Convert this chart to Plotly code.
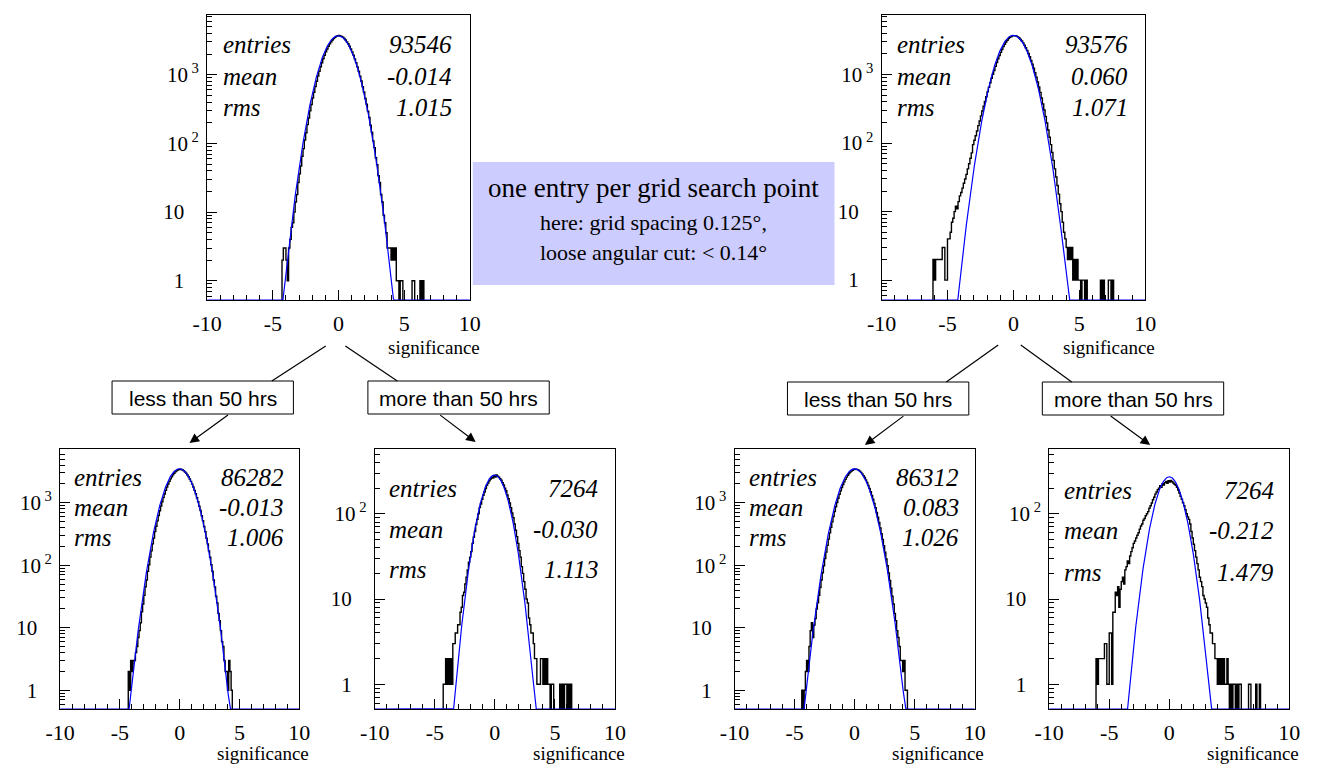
import numpy as np
import plotly.graph_objects as go

W, H = 1318, 776
BIN_WIDTH = 0.1

# ---------------- data (bin counts, 0.1 wide bins starting at first edge) ----------------
p1_first_edge = -4.3
p1_counts = [2, 3, 3, 2, 1, 3, 4, 6, 7, 10, 14, 18, 27, 36, 47, 65, 84, 112, 143, 188, 235, 298,
             368, 458, 555, 676, 805, 958, 1120, 1306, 1498, 1712, 1922, 2155, 2372, 2605, 2815,
             3025, 3205, 3378, 3505, 3620, 3688, 3725, 3685, 3612, 3515, 3368, 3212, 3015, 2822,
             2596, 2380, 2148, 1930, 1705, 1503, 1300, 1126, 954, 810, 670, 560, 452, 373, 295,
             238, 184, 146, 109, 87, 62, 49, 34, 27, 18, 14, 9, 7, 5, 3, 3, 3, 2, 3, 2, 3, 1, 1,
             0, 1, 1, 0, 0, 0, 0, 0, 0, 0, 1, 1, 0, 0, 0, 0, 1, 0, 1]

p2_first_edge = -6.1
p2_counts = [2, 1, 2, 2, 2, 2, 2, 3, 3, 1, 1, 4, 4, 5, 7, 8, 10, 12, 11, 14, 17, 19, 22, 26, 30,
             35, 42, 50, 60, 72, 95, 110, 128, 150, 180, 210, 250, 295, 345, 405, 475, 560, 650,
             760, 880, 1010, 1150, 1320, 1500, 1700, 1900, 2110, 2330, 2560, 2780, 2990, 3180,
             3350, 3490, 3600, 3670,
             3710, 3690, 3640, 3550, 3420, 3270, 3090, 2900, 2690, 2470, 2250, 2030, 1820, 1610,
             1420, 1240, 1070, 915, 780, 660, 550, 455, 372, 305, 245, 197, 155, 122, 95, 73, 56,
             42, 32, 24, 18, 13, 10, 7, 5, 4, 3, 2, 3, 2, 3, 1, 2, 1, 2, 1, 1, 0, 1, 1, 0, 1, 0,
             0, 0, 0, 0, 0, 0, 0, 0, 0, 1, 0, 1, 0, 0, 0, 1, 1, 0, 1]

p3_first_edge = -4.3
p3_counts = [2, 1, 3, 2, 3, 3, 4, 5, 7, 9, 12, 18, 24, 33, 45, 58, 80, 102, 135, 170, 220, 272,
             345, 420, 512, 625, 745, 886, 1035, 1208, 1384, 1582, 1776, 1990, 2195, 2408, 2598,
             2795, 2960, 3120, 3240, 3345, 3405, 3440, 3405, 3338, 3246, 3112, 2968, 2786, 2606,
             2398, 2200, 1984, 1785, 1575, 1390, 1200, 1040, 880, 750, 618, 518, 418, 345, 270,
             220, 170, 134, 102, 80, 58, 45, 32, 25, 17, 13, 9, 6, 5, 3, 2, 2, 1, 3, 2, 1]

p4_first_edge = -4.3
p4_counts = [1, 1, 2, 1, 2, 1, 2, 1, 3, 3, 4, 4, 5, 5, 7, 8, 11, 12, 15, 18, 22, 27, 31, 36, 45,
             53, 62, 75, 86, 100, 118, 130, 148, 165, 180, 198, 216, 230, 244, 256, 268, 262, 282,
             270, 285, 276, 268, 258, 248, 232, 218, 200, 186, 166, 150, 134, 118, 102, 90, 76,
             64, 54, 45, 37, 31, 24, 20, 16, 13, 10, 9, 6, 5, 4, 4, 3, 2, 2, 1, 1, 1, 2, 2, 1, 2,
             1, 2, 1, 1, 0, 1, 1, 0, 0, 0, 0, 0, 1, 0, 1, 0, 1, 1, 0, 1, 0, 1]

p5_first_edge = -4.4
p5_counts = [1, 0, 1, 2, 3, 2, 5, 9, 12, 7, 11, 14, 20, 25, 33, 44, 58, 76, 98, 128, 162, 208,
             262, 330, 404, 495, 602, 725, 862, 1010, 1180, 1360, 1550, 1745, 1950, 2160, 2370,
             2570, 2760, 2930, 3090, 3220, 3320, 3395, 3440, 3430, 3390, 3310, 3200, 3060, 2900,
             2720, 2530, 2320, 2110, 1900, 1700, 1500, 1310, 1140, 975, 830, 700, 585, 482, 396,
             320, 258, 205, 162, 126, 98, 75, 57, 43, 32, 24, 17, 13, 9, 7, 5, 3, 3, 2, 3, 1, 1]

p6_first_edge = -6.1
p6_counts = [2, 1, 2, 2, 2, 2, 2, 3, 3, 1, 1, 4, 4, 1, 7, 7, 12, 11, 14, 8, 13, 16, 18, 15, 22,
             24, 28, 26, 32, 36, 40, 45, 48, 52, 56, 60, 66, 72, 76, 84, 88, 95, 100, 106, 116,
             124, 134, 146, 156, 170, 180, 192, 200, 214, 205, 225, 218, 232, 240, 228, 244, 236,
             246, 238, 230, 222, 216, 204, 190, 175, 160, 148, 135, 124, 112, 100, 92, 86, 76, 62,
             52, 44, 37, 31, 26, 22, 18, 16, 14, 11, 10, 9, 8, 6, 5, 4, 4, 3, 3, 2, 2, 1, 2, 1, 2,
             1, 2, 1, 1, 2, 1, 0, 1, 0, 1, 1, 0, 1, 0, 1, 1, 0, 0, 0, 0, 0, 0, 1, 1, 0, 0, 0, 0,
             1, 0, 0, 1]

first_edges = [p1_first_edge, p2_first_edge, p3_first_edge, p4_first_edge, p5_first_edge, p6_first_edge]
all_counts = [p1_counts, p2_counts, p3_counts, p4_counts, p5_counts, p6_counts]

# Gaussian fit parameters (blue curves)
fit_amp = [3700, 3750, 3500, 285, 3500, 272]
fit_mean = [-0.02, 0.0, -0.02, -0.02, 0.0, 0.0]
fit_sigma = [1.0, 1.0, 1.0, 0.96, 1.0, 0.98]

# statistics boxes
stat_labels = ["entries", "mean", "rms"]
panel_entries = ["93546", "93576", "86282", "7264", "86312", "7264"]
panel_mean = ["-0.014", "0.060", "-0.013", "-0.030", "0.083", "-0.212"]
panel_rms = ["1.015", "1.071", "1.006", "1.113", "1.026", "1.479"]

x_tick_vals = [-10, -5, 0, 5, 10]
x_tick_text = ["-10", "-5", "0", "5", "10"]
y_tick_vals = [1, 10, 100, 1000]
y_tick_text = ["1", "10", "10", "10"]
y_tick_sup = ["", "", "2", "3"]
x_title = "significance"

box_title = "one entry per grid search point"
box_line2 = "here: grid spacing 0.125°,"
box_line3 = "loose angular cut: < 0.14°"
split_labels = ["less than 50 hrs", "more than 50 hrs"]

# ---------------- layout geometry (pixels) ----------------
frames = [(196, 464, 15, 300), (884, 1153, 15, 300), (46, 290, 449, 709),
          (367, 612, 449, 709), (734, 979, 449, 709), (1055, 1300, 449, 709)]
yranges = [(-0.28, 3.87), (-0.29, 3.87), (-0.30, 3.86), (-0.29, 2.76), (-0.30, 3.86), (-0.29, 2.76)]
stat_pos = [(210, 448, (44, 77, 108)), (898, 1137, (44, 77, 108)), (58, 276, (477, 507, 537)),
            (379, 597, (488, 529, 569)), (747, 965, (477, 507, 537)), (1068, 1286, (490, 530, 572))]
title_y = [347, 347, 753, 753, 753, 753]


def px(x):
    return x / W


def py(y):
    return 1 - y / H


SERIF = "Liberation Serif, Times New Roman, serif"
SANS = "Liberation Sans, Arial, sans-serif"

fig = go.Figure()
annotations = []
shapes = []

minor_log = [0.6, 0.7, 0.8, 0.9] + [m * 10 ** d for d in range(0, 4) for m in range(2, 10)]

for i in range(6):
    k = i + 1
    xa = "x" if k == 1 else f"x{k}"
    ya = "y" if k == 1 else f"y{k}"
    ymin_val = 10 ** yranges[i][0]
    counts = np.array(all_counts[i], dtype=float)
    n = len(counts)
    edges = first_edges[i] + BIN_WIDTH * np.arange(n + 1)
    floor = 1e-2
    yv = np.where(counts > 0, counts, floor)
    hx = np.concatenate([[-10.0, edges[0]], edges[:-1], [edges[-1], 10.0]])
    hy = np.concatenate([[floor, floor], yv, [floor, floor]])
    fig.add_trace(go.Scatter(x=hx, y=hy, mode="lines", line=dict(color="black", width=1.4, shape="hv"),
                             xaxis=xa, yaxis=ya, showlegend=False, hoverinfo="skip"))
    xs = np.linspace(-10, 10, 2001)
    fy = fit_amp[i] * np.exp(-(xs - fit_mean[i]) ** 2 / (2 * fit_sigma[i] ** 2))
    fy = np.maximum(fy, ymin_val)  # ROOT draws the function at the frame minimum
    fig.add_trace(go.Scatter(x=xs, y=fy, mode="lines", line=dict(color="#0000ff", width=1.2),
                             xaxis=xa, yaxis=ya, showlegend=False, hoverinfo="skip"))

    x0, x1, y0, y1 = frames[i]
    ytext = []
    for t, s in zip(y_tick_text, y_tick_sup):
        if s:
            ytext.append(f"{t}<sup> {s}</sup>")
        else:
            ytext.append(f"{t}<sup><span style='color:rgba(0,0,0,0)'>33</span></sup>")
    xaxis = dict(domain=[px(x0), px(x1)], range=[-10, 10], anchor=ya, showgrid=False, zeroline=False,
                 showline=True, mirror=True, linecolor="black", linewidth=1,
                 ticks="inside", ticklen=10, tickwidth=1, tickcolor="black",
                 tickmode="array", tickvals=x_tick_vals, ticktext=x_tick_text,
                 tickfont=dict(family=SERIF, size=22, color="black"), ticklabelstandoff=4,
                 minor=dict(ticks="inside", ticklen=5, tickwidth=1, tickcolor="black", dtick=1,
                            showgrid=False))
    yaxis = dict(domain=[py(y1), py(y0)], type="log", range=list(yranges[i]), anchor=xa,
                 showgrid=False, zeroline=False, showline=True, mirror=True, linecolor="black",
                 linewidth=1, ticks="inside", ticklen=10, tickwidth=1, tickcolor="black",
                 tickmode="array", tickvals=y_tick_vals, ticktext=ytext,
                 tickfont=dict(family=SERIF, size=21, color="black"),
                 ticklabelstandoff=3,
                 minor=dict(ticks="inside", ticklen=5, tickwidth=1, tickcolor="black",
                            tickmode="array", tickvals=minor_log, showgrid=False))
    fig.layout[("xaxis" if k == 1 else f"xaxis{k}")] = xaxis
    fig.layout[("yaxis" if k == 1 else f"yaxis{k}")] = yaxis

    # stats text
    xl, xr, ys = stat_pos[i]
    vals = [panel_entries[i], panel_mean[i], panel_rms[i]]
    for lab, val, yy in zip(stat_labels, vals, ys):
        annotations.append(dict(x=px(xl), y=py(yy), xref="paper", yref="paper", xanchor="left",
                                yanchor="middle", text=f"<i>{lab}</i>", showarrow=False,
                                font=dict(family=SERIF, size=25, color="black")))
        annotations.append(dict(x=px(xr), y=py(yy), xref="paper", yref="paper", xanchor="right",
                                yanchor="middle", text=f"<i>{val}</i>", showarrow=False,
                                font=dict(family=SERIF, size=25, color="black")))
    # axis title
    annotations.append(dict(x=px(x1 + 12), y=py(title_y[i]), xref="paper", yref="paper",
                            xanchor="right", yanchor="middle", text=x_title, showarrow=False,
                            font=dict(family=SERIF, size=19, color="black")))

# central info box
shapes.append(dict(type="rect", xref="paper", yref="paper", x0=px(467), x1=px(836), y0=py(285),
                   y1=py(162), fillcolor="#ccccff", line=dict(width=0), layer="below"))
annotations.append(dict(x=px(651.5), y=py(188), xref="paper", yref="paper", text=box_title,
                        showarrow=False, xanchor="center", yanchor="middle",
                        font=dict(family=SERIF, size=27, color="black")))
annotations.append(dict(x=px(651.5), y=py(223), xref="paper", yref="paper", text=box_line2,
                        showarrow=False, xanchor="center", yanchor="middle",
                        font=dict(family=SERIF, size=22, color="black")))
annotations.append(dict(x=px(651.5), y=py(253), xref="paper", yref="paper", text=box_line3,
                        showarrow=False, xanchor="center", yanchor="middle",
                        font=dict(family=SERIF, size=22, color="black")))

# split label boxes
label_boxes = [(99, 284, 381, 414, 0), (360, 545, 381, 414, 1),
               (788, 973, 382, 415, 0), (1048, 1233, 382, 415, 1)]
for bx0, bx1, by0, by1, li in label_boxes:
    shapes.append(dict(type="rect", xref="paper", yref="paper", x0=px(bx0), x1=px(bx1),
                       y0=py(by1), y1=py(by0), fillcolor="white",
                       line=dict(color="black", width=1)))
    annotations.append(dict(x=px((bx0 + bx1) / 2), y=py((by0 + by1) / 2 + 1), xref="paper",
                            yref="paper", text=split_labels[li], showarrow=False,
                            xanchor="center", yanchor="middle",
                            font=dict(family=SANS, size=21, color="black")))

# connecting lines
for (lx0, ly0, lx1, ly1) in [(317, 346, 262, 381), (337, 346, 390, 381),
                             (1003, 345, 950, 382), (1026, 345, 1078, 382)]:
    shapes.append(dict(type="line", xref="paper", yref="paper", x0=px(lx0), y0=py(ly0),
                       x1=px(lx1), y1=py(ly1), line=dict(color="black", width=1.2)))

# arrows (tail pixel, tip pixel)
for (tx, ty, hx_, hy_) in [(218, 414, 178, 443), (433, 414, 470, 442),
                           (907, 415, 867, 445), (1117, 415, 1158, 445)]:
    annotations.append(dict(x=px(hx_), y=py(hy_), ax=tx - hx_, ay=ty - hy_, xref="paper",
                            yref="paper", axref="pixel", ayref="pixel", text="", showarrow=True,
                            arrowhead=2, arrowsize=1.6, arrowwidth=1.2, arrowcolor="black",
                            standoff=0))

fig.update_layout(width=W, height=H, margin=dict(l=0, r=0, t=0, b=0), paper_bgcolor="white",
                  plot_bgcolor="white", annotations=annotations, shapes=shapes, showlegend=False)

fig.write_html("out.html")
